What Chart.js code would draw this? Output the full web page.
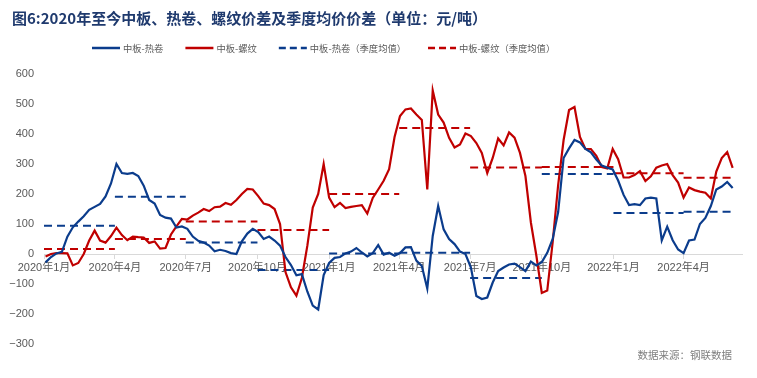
<!DOCTYPE html>
<html>
<head>
<meta charset="utf-8">
<script src="https://cdn.jsdelivr.net/npm/chart.js@4"></script>
<style>
  html, body { margin: 0; padding: 0; background: #fff; }
  canvas { display: block; }
</style>
</head>
<body>
<canvas id="spreadChart" width="757" height="378"></canvas>
<script>
// weekly observations, first one on 2020-01-03
var firstWeek = '2020-01-03';

// 中板-热卷 (元/吨), weekly
var plateMinusHrc = [
  -28, -10, 2, 7, 58, 89, 108, 126, 147, 157, 167, 192, 235, 300, 270, 267,
  270, 260, 228, 180, 168, 130, 121, 118, 88, 92, 84, 58, 44, 38, 28, 9,
  14, 10, 3, 0, 42, 68, 84, 73, 50, 58, 45, 28, -10, -37, -71, -67,
  -125, -172, -185, -70, -30, -13, -10, 2, 8, 20, 5, -8, 3, 30, -2, 4,
  -6, 3, 22, 23, -22, -40, -115, 60, 160, 82, 50, 33, 8, 0, -45, -140,
  -150, -145, -95, -57, -45, -35, -32, -44, -57, -25, -38, -27, 4, 50, 140, 320,
  352, 380, 372, 350, 339, 315, 295, 288, 282, 245, 197, 163, 166, 163, 185, 188,
  185, 45, 91, 46, 15, 3, 45, 48, 100, 120, 160, 215, 225, 240, 220
];

// 中板-螺纹 (元/吨), weekly
var plateMinusRebar = [
  -8, 0, 3, 3, 2, -38, -30, 0, 45, 78, 45, 38, 60, 88, 63, 46,
  58, 56, 55, 37, 42, 18, 20, 65, 92, 117, 115, 128, 138, 150, 143, 156,
  158, 170, 164, 180, 200, 217, 215, 193, 168, 163, 150, 100, -60, -111, -139, -80,
  27, 155, 200, 300, 188, 156, 170, 153, 157, 160, 163, 135, 187, 215, 244, 283,
  390, 460, 482, 485, 465, 447, 215, 545, 465, 438, 387, 355, 365, 402, 393, 370,
  337, 270, 320, 385, 362, 405, 388, 337, 260, 105, -5, -130, -122, 40, 230, 380,
  480, 490, 390, 350, 350, 327, 290, 285, 350, 316, 255, 255, 263, 276, 243, 259,
  288, 295, 300, 263, 238, 188, 222, 213, 208, 204, 185, 275, 320, 340, 287
];

// quarterly averages
var quarterStarts = [
  '2020-01-01', '2020-04-01', '2020-07-01', '2020-10-01', '2021-01-01',
  '2021-04-01', '2021-07-01', '2021-10-01', '2022-01-01', '2022-04-01'
];
var hrcQuarterAvg = [94, 191, 38, -53, 2, 4, -80, 267, 137, 141];
var rebarQuarterAvg = [17, 50, 108, 80, 200, 420, 288, 290, 269, 254];

// x axis labels
var tickLabels = [
  '2020年1月', '2020年4月', '2020年7月', '2020年10月', '2021年1月',
  '2021年4月', '2021年7月', '2021年10月', '2022年1月', '2022年4月'
];

var blue = '#0B3C8C';
var red = '#C00000';
var grey = '#595959';
var latin = '"Liberation Sans", Arial, "Noto Sans CJK SC", sans-serif';
var cjk = '"Noto Sans CJK SC", "Noto Sans", sans-serif';

var origin = Date.UTC(2020, 0, 1);
function dayOf(s) {
  return (Date.parse(s) - origin) / 86400000;
}

var weekDays = [];
for (var i = 0; i < plateMinusHrc.length; i++) {
  weekDays.push(dayOf(firstWeek) + 7 * i);
}
var lastDay = weekDays[weekDays.length - 1];

function weeklyPoints(values) {
  return values.map(function (v, i) { return { x: weekDays[i], y: v }; });
}

function quarterPoints(avgs) {
  var pts = [];
  avgs.forEach(function (v, i) {
    var a = dayOf(quarterStarts[i]);
    var b = i + 1 < quarterStarts.length ? dayOf(quarterStarts[i + 1]) : lastDay;
    pts.push({ x: a, y: v }, { x: b, y: v }, { x: b, y: null });
  });
  return pts;
}

// title, legend and source note
var decorations = {
  id: 'decorations',
  afterDraw: function (chart) {
    var ctx = chart.ctx;
    ctx.save();
    ctx.fillStyle = '#1F3A6E';
    ctx.font = 'bold 15px ' + cjk;
    ctx.textBaseline = 'middle';
    ctx.textAlign = 'left';
    ctx.fillText('图6:2020年至今中板、热卷、螺纹价差及季度均价价差（单位：元/吨）', 12, 18);

    var x = 92, y = 48;
    ctx.font = '9.3px ' + cjk;
    chart.data.datasets.forEach(function (ds) {
      ctx.beginPath();
      ctx.strokeStyle = ds.borderColor;
      ctx.lineWidth = 2.5;
      ctx.setLineDash(ds.borderDash ? [7, 4] : []);
      ctx.moveTo(x, y);
      ctx.lineTo(x + 28, y);
      ctx.stroke();
      ctx.setLineDash([]);
      ctx.fillStyle = grey;
      ctx.fillText(ds.label, x + 31, y);
      x += 31 + ctx.measureText(ds.label).width + 22;
    });

    ctx.font = '10.5px ' + cjk;
    ctx.fillStyle = '#7F7F7F';
    ctx.textAlign = 'right';
    ctx.fillText('数据来源：钢联数据', 732, 355);
    ctx.restore();
  }
};

new Chart(document.getElementById('spreadChart'), {
  type: 'line',
  data: {
    datasets: [{
      label: '中板-热卷',
      data: weeklyPoints(plateMinusHrc),
      borderColor: blue,
      borderWidth: 2.2
    }, {
      label: '中板-螺纹',
      data: weeklyPoints(plateMinusRebar),
      borderColor: red,
      borderWidth: 2.2
    }, {
      label: '中板-热卷（季度均值）',
      data: quarterPoints(hrcQuarterAvg),
      borderColor: blue,
      borderWidth: 2,
      borderDash: [8, 5]
    }, {
      label: '中板-螺纹（季度均值）',
      data: quarterPoints(rebarQuarterAvg),
      borderColor: red,
      borderWidth: 2,
      borderDash: [8, 5]
    }]
  },
  options: {
    responsive: false,
    animation: false,
    spanGaps: false,
    elements: {
      point: { radius: 0, hoverRadius: 0 },
      line: { tension: 0, fill: false }
    },
    layout: {
      padding: { left: 0, right: 15, top: 74, bottom: 34 }
    },
    plugins: {
      legend: { display: false },
      title: { display: false },
      tooltip: { enabled: false }
    },
    scales: {
      x: {
        type: 'linear',
        min: 0,
        max: 896,
        position: { y: 0 },
        afterBuildTicks: function (scale) {
          scale.ticks = quarterStarts.map(function (d) { return { value: dayOf(d) }; });
        },
        ticks: {
          autoSkip: false,
          maxRotation: 0,
          padding: 3,
          color: grey,
          font: { size: 11, family: latin },
          callback: function (value, index) {
            return tickLabels[index];
          }
        },
        grid: {
          drawOnChartArea: false,
          drawTicks: true,
          tickLength: 4,
          color: '#D9D9D9'
        },
        border: { color: '#D9D9D9', width: 1 }
      },
      y: {
        min: -300,
        max: 600,
        afterFit: function (scale) {
          scale.width = 44;
        },
        ticks: {
          stepSize: 100,
          padding: 10,
          color: grey,
          font: { size: 11, family: latin },
          callback: function (value) {
            return value < 0 ? '\u2212' + (-value) : String(value);
          }
        },
        grid: { display: false, drawTicks: false },
        border: { display: false }
      }
    }
  },
  plugins: [decorations]
});
</script>
</body>
</html>
